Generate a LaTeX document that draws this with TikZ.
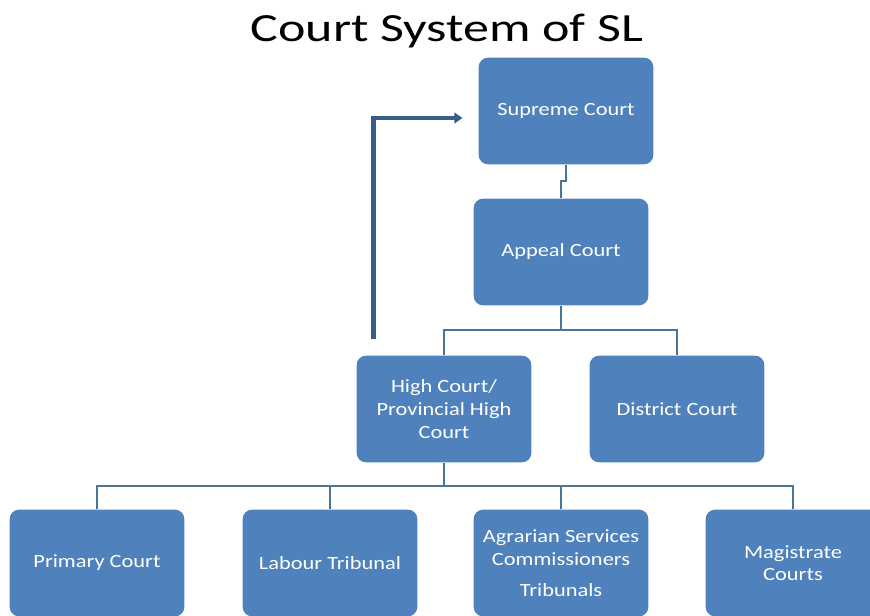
\documentclass[tikz,border=0pt]{standalone}
\usepackage{fontspec}
\setmainfont{Carlito}
\newfontfamily\boxfont{Carlito}[FakeStretch=1.2]
\newfontfamily\titlefont{Carlito}[FakeStretch=1.3]
\usetikzlibrary{arrows.meta}

\definecolor{boxblue}{HTML}{4F81BD}
\definecolor{linkblue}{HTML}{4A7394}
\definecolor{arrowblue}{HTML}{385D8A}

\begin{document}
\begin{tikzpicture}[x=0.75pt, y=-0.75pt,
    court/.style={rectangle, rounded corners=7pt, fill=boxblue, text=white,
        minimum width=131pt, minimum height=80pt, align=center,
        font=\boxfont\fontsize{14}{17}\selectfont},
    link/.style={draw=linkblue, line width=1.6pt},
    appeal/.style={draw=arrowblue, line width=3.6pt, -{Triangle[length=6pt,width=8pt]}}
]
\useasboundingbox (0,0) rectangle (870,615);
\node[font=\titlefont\fontsize{30}{36}\selectfont] (title) at (447,31) {Court System of SL};
\node[court] (supreme) at (566,111) {Supreme Court};
\node[court] (appealc) at (561,252) {Appeal Court};
\node[court] (high) at (444,409) {High Court/\\Provincial High\\Court};
\node[court] (district) at (677,409) {District Court};
\node[court] (primary) at (97,563) {Primary Court};
\node[court] (labour) at (330,563) {Labour Tribunal};
\node[court] (agrarian) at (561,563) {Agrarian Services\\Commissioners\\[6pt]Tribunals};
\node[court] (magistrate) at (793,563) {Magistrate\\Courts};
% connectors
\draw[link] (supreme.south) -- ++(0,16) -| (appealc.north);
\draw[link] (appealc.south) -- ++(0,24) coordinate (a1);
\draw[link] (high.north) |- (a1) -| (district.north);
\draw[link] (high.south) -- ++(0,23) coordinate (h1);
\draw[link] (primary.north) |- (h1) -| (magistrate.north);
\draw[link] (labour.north) -- (labour.north |- h1);
\draw[link] (agrarian.north) -- (agrarian.north |- h1);
% appeal path
\draw[appeal] ([xshift=12.75pt,yshift=12pt]high.north west) |- ([xshift=-12pt,yshift=-5.25pt]supreme.west);
\end{tikzpicture}
\end{document}
